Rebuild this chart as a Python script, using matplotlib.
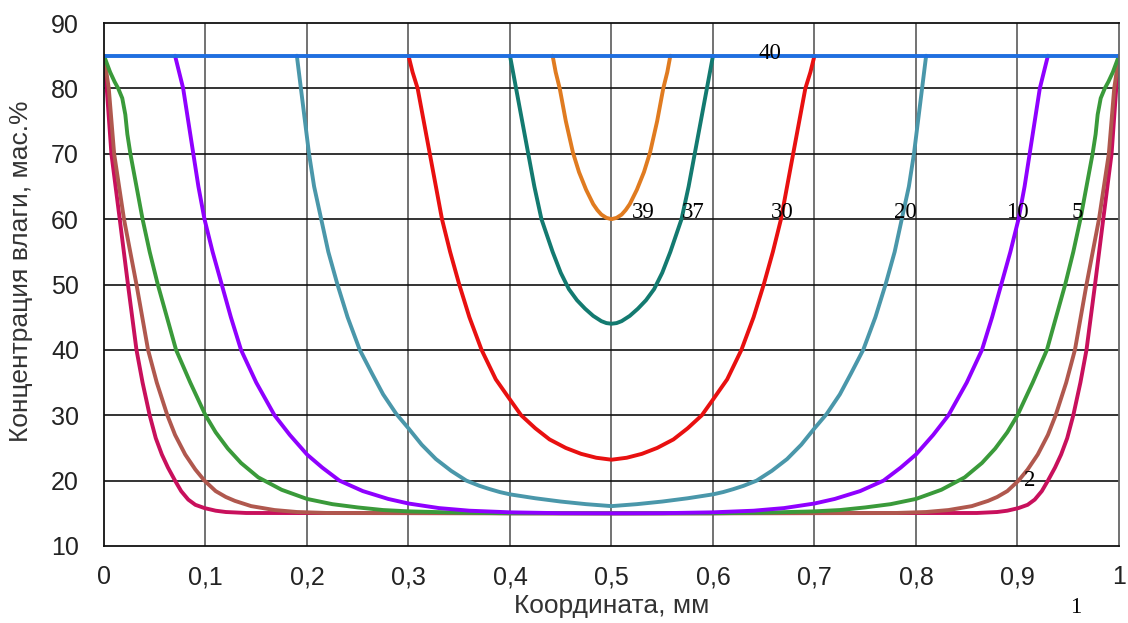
import matplotlib
matplotlib.use('Agg')
import matplotlib.pyplot as plt
import matplotlib.ticker as mticker

plt.rcParams['font.family'] = ['Liberation Sans', 'DejaVu Sans']

# curve values (x in mm, y in mass %)
x_1 = [0, 0.0027, 0.0073, 0.0155, 0.0236, 0.032, 0.038, 0.045, 0.051, 0.057, 0.063, 0.07, 0.076,
       0.083, 0.09, 0.099, 0.11, 0.12, 0.14, 0.5,
       0.86, 0.88, 0.89, 0.901, 0.91, 0.917, 0.924, 0.93, 0.937, 0.943, 0.949, 0.955, 0.962,
       0.968, 0.9764, 0.9845, 0.9927, 0.9973, 1]
y_1 = [85, 80, 70, 60, 50, 40, 35, 30, 26.5, 24, 22, 20, 18.4,
       17.1, 16.3, 15.8, 15.4, 15.2, 15.05, 15,
       15.05, 15.2, 15.4, 15.8, 16.3, 17.1, 18.4, 20, 22, 24, 26.5, 30, 35,
       40, 50, 60, 70, 80, 85]

x_2 = [0, 0.0047, 0.01, 0.0197, 0.032, 0.0434, 0.052, 0.0624, 0.07, 0.08, 0.09, 0.099, 0.11,
       0.12, 0.129, 0.145, 0.168, 0.19, 0.22, 0.5,
       0.78, 0.81, 0.832, 0.855, 0.871, 0.88, 0.89, 0.901, 0.91, 0.92, 0.93, 0.9376, 0.948,
       0.9566, 0.968, 0.9803, 0.99, 0.9953, 1]
y_2 = [85, 80, 70, 60, 50, 40, 35, 30, 27, 24, 21.7, 20, 18.4,
       17.5, 16.9, 16.1, 15.5, 15.2, 15.05, 15,
       15.05, 15.2, 15.5, 16.1, 16.9, 17.5, 18.4, 20, 21.7, 24, 27, 30, 35,
       40, 50, 60, 70, 80, 85]

x_5 = [0, 0.006, 0.0105, 0.014, 0.018, 0.021, 0.023, 0.026, 0.032, 0.038, 0.045, 0.053, 0.062,
       0.071, 0.085, 0.1, 0.11, 0.122, 0.135, 0.152, 0.175, 0.2, 0.225, 0.25, 0.275, 0.3, 0.35,
       0.4, 0.5,
       0.6, 0.65, 0.7, 0.725, 0.75, 0.775, 0.8, 0.825, 0.848, 0.865, 0.878, 0.89, 0.9, 0.915,
       0.929, 0.938, 0.947, 0.955, 0.962, 0.968, 0.974, 0.977, 0.979, 0.982, 0.986, 0.9895,
       0.994, 1]
y_5 = [85, 82.5, 81, 80, 78.5, 76, 73, 70, 65, 60, 55, 50, 45,
       40, 35, 30, 27.4, 24.9, 22.7, 20.5, 18.6, 17.2, 16.4, 15.9, 15.5, 15.3, 15.1,
       15, 15,
       15, 15.1, 15.3, 15.5, 15.9, 16.4, 17.2, 18.6, 20.5, 22.7, 24.9, 27.4, 30, 35,
       40, 45, 50, 55, 60, 65, 70, 73, 76, 78.5, 80, 81,
       82.5, 85]

x_10 = [0.07, 0.074, 0.078, 0.083, 0.088, 0.093, 0.099, 0.107, 0.116, 0.125, 0.135, 0.15, 0.168,
        0.183, 0.2, 0.215, 0.232, 0.255, 0.28, 0.3, 0.33, 0.36, 0.4, 0.45, 0.5,
        0.55, 0.6, 0.64, 0.67, 0.7, 0.72, 0.745, 0.768, 0.785, 0.8, 0.817, 0.832, 0.85, 0.865,
        0.875, 0.884, 0.893, 0.901, 0.907, 0.912, 0.917, 0.922, 0.926, 0.93]
y_10 = [85, 82.5, 80, 75, 70, 65, 60, 55, 50, 45, 40, 35, 30,
        27, 24, 22, 20, 18.4, 17.2, 16.5, 15.8, 15.4, 15.15, 15.02, 15,
        15.02, 15.15, 15.4, 15.8, 16.5, 17.2, 18.4, 20, 22, 24, 27, 30, 35, 40,
        45, 50, 55, 60, 65, 70, 75, 80, 82.5, 85]

x_20 = [0.19, 0.192, 0.194, 0.198, 0.202, 0.207, 0.214, 0.221, 0.23, 0.24, 0.252, 0.264, 0.275,
        0.288, 0.3, 0.313, 0.327, 0.342, 0.357, 0.37, 0.38, 0.39, 0.4, 0.425, 0.45, 0.475, 0.5,
        0.525, 0.55, 0.575, 0.6, 0.61, 0.62, 0.63, 0.643, 0.658, 0.673, 0.687, 0.7, 0.712,
        0.725, 0.736, 0.748, 0.76, 0.77, 0.779, 0.786, 0.793, 0.798, 0.802, 0.806, 0.808, 0.81]
y_20 = [85, 82.5, 80, 75, 70, 65, 60, 55, 50, 45, 40, 36.4, 33.2,
        30.2, 28, 25.5, 23.3, 21.5, 20, 19.2, 18.7, 18.25, 17.9, 17.3, 16.8, 16.4, 16.1,
        16.4, 16.8, 17.3, 17.9, 18.25, 18.7, 19.2, 20, 21.5, 23.3, 25.5, 28, 30.2,
        33.2, 36.4, 40, 45, 50, 55, 60, 65, 70, 75, 80, 82.5, 85]

x_30 = [0.3, 0.304, 0.309, 0.315, 0.321, 0.327, 0.333, 0.341, 0.35, 0.36, 0.372, 0.386, 0.4,
        0.411, 0.425, 0.439, 0.455, 0.47, 0.485, 0.5,
        0.515, 0.53, 0.545, 0.561, 0.575, 0.589, 0.6, 0.614, 0.628, 0.64, 0.65, 0.659, 0.667,
        0.673, 0.679, 0.685, 0.691, 0.696, 0.7]
y_30 = [85, 82.5, 80, 75, 70, 65, 60, 55, 50, 45, 40, 35.5, 32.4,
        30, 28, 26.3, 25, 24.1, 23.5, 23.2,
        23.5, 24.1, 25, 26.3, 28, 30, 32.4, 35.5, 40, 45, 50, 55, 60,
        65, 70, 75, 80, 82.5, 85]

x_37 = [0.4, 0.403, 0.406, 0.412, 0.418, 0.424, 0.431, 0.442, 0.45, 0.458, 0.466, 0.474, 0.482,
        0.49, 0.495, 0.5,
        0.505, 0.51, 0.518, 0.526, 0.534, 0.542, 0.55, 0.558, 0.569, 0.576, 0.582, 0.588, 0.594,
        0.597, 0.6]
y_37 = [85, 82.5, 80, 75, 70, 65, 60, 55, 51.8, 49.3, 47.6, 46.3, 45.2,
        44.4, 44.1, 44,
        44.1, 44.4, 45.2, 46.3, 47.6, 49.3, 51.8, 55, 60, 65, 70, 75, 80,
        82.5, 85]

x_39 = [0.442, 0.445, 0.449, 0.455, 0.462, 0.468, 0.475, 0.482, 0.486, 0.49, 0.495, 0.5,
        0.505, 0.51, 0.514, 0.518, 0.525, 0.532, 0.538, 0.545, 0.551, 0.555, 0.558]
y_39 = [85, 82.5, 80, 75, 70.2, 67.2, 64.5, 62.3, 61.4, 60.7, 60.2, 60,
        60.2, 60.7, 61.4, 62.3, 64.5, 67.2, 70.2, 75, 80, 82.5, 85]

x_40 = [0, 1]
y_40 = [85, 85]

curves = [
    (x_1, y_1, '#c8105c'),
    (x_2, y_2, '#b0584e'),
    (x_5, y_5, '#3a9a3a'),
    (x_10, y_10, '#8f00ff'),
    (x_20, y_20, '#4a97aa'),
    (x_30, y_30, '#e81010'),
    (x_37, y_37, '#137a70'),
    (x_39, y_39, '#e07b20'),
    (x_40, y_40, '#1f6fe0'),
]

# curve number labels (text, x, y)
labels = [('40', 0.656, 85.3), ('39', 0.531, 61), ('37', 0.581, 61), ('30', 0.668, 61),
          ('20', 0.79, 61), ('10', 0.9, 61), ('5', 0.959, 61), ('2', 0.912, 20), ('1', 0.957, 0.6)]

x_ticks = [0, 0.1, 0.2, 0.3, 0.4, 0.5, 0.6, 0.7, 0.8, 0.9, 1]
x_tick_labels = ['0', '0,1', '0,2', '0,3', '0,4', '0,5', '0,6', '0,7', '0,8', '0,9', '1']
y_ticks = [10, 20, 30, 40, 50, 60, 70, 80, 90]

fig = plt.figure(figsize=(11.28, 6.23), dpi=100)
ax = fig.add_axes([0.0922, 0.1236, 0.8998, 0.8394])

for xs, ys, c in curves:
    ax.plot(xs, ys, color=c, linewidth=2.8, solid_capstyle='round', solid_joinstyle='round')

for txt, lx, ly in labels:
    ax.text(lx, ly, txt, ha='center', va='center', fontsize=16.5,
            family=['Liberation Serif', 'DejaVu Serif'], clip_on=False)

ax.set_xlim(0, 1)
ax.set_ylim(10, 90)
ax.set_xticks(x_ticks)
ax.set_xticklabels(x_tick_labels)
ax.set_yticks(y_ticks)
ax.yaxis.set_major_formatter(mticker.FuncFormatter(lambda v, _: f'{v:.0f}'))
ax.tick_params(axis='both', length=0, labelsize=18, colors='#222222')
ax.tick_params(axis='x', pad=14)
ax.tick_params(axis='y', pad=18)

for v in x_ticks[1:-1]:
    ax.axvline(v, color='#5a5a5a', linewidth=1.2, zorder=0)
for v in y_ticks[1:-1]:
    ax.axhline(v, color='#111111', linewidth=1.2, zorder=0)

for side in ['left', 'bottom', 'top']:
    ax.spines[side].set_color('#111111')
    ax.spines[side].set_linewidth(1.3)
ax.spines['right'].set_color('#666666')
ax.spines['right'].set_linewidth(1.3)

ax.set_xlabel('Координата, мм', fontsize=19, color='#333333')
ax.xaxis.set_label_coords(0.5, -0.092)
ax.set_ylabel('Концентрация влаги, мас.%', fontsize=19, color='#333333')
ax.yaxis.set_label_coords(-0.07, 0.526)

fig.savefig('out.png', dpi=100)
